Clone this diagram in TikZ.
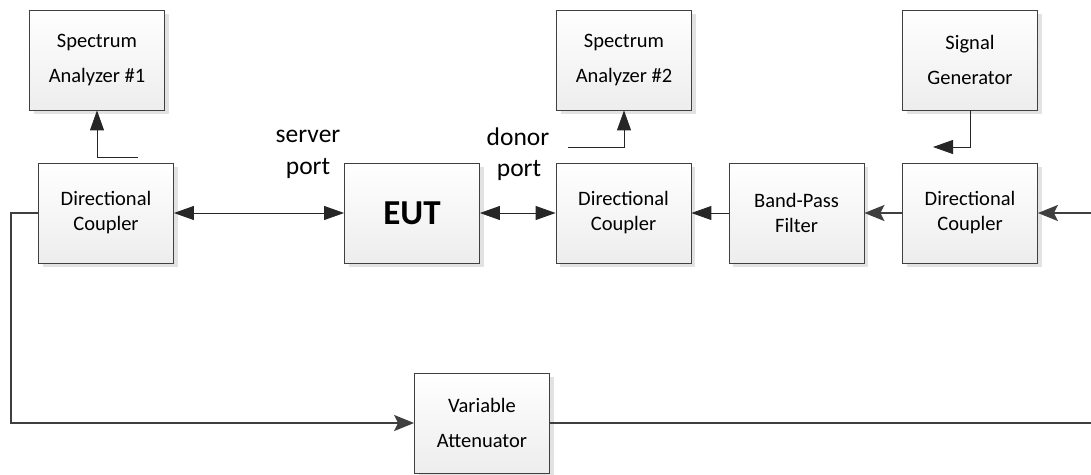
\documentclass[tikz,border=0pt]{standalone}
\usepackage{fontspec}
\setmainfont{Carlito}
\usetikzlibrary{arrows.meta,shadows}
\definecolor{bordc}{HTML}{404040}
\definecolor{linec}{HTML}{3F3F3F}
\definecolor{boxbot}{HTML}{EDEDED}
\definecolor{shadc}{HTML}{E2E2E2}
\begin{document}
\begin{tikzpicture}[x=1pt,y=-1pt,
  box/.style={draw=bordc, line width=0.8pt, top color=white, bottom color=boxbot,
    minimum width=135pt, minimum height=100pt, inner sep=0pt, align=center,
    drop shadow={shadow xshift=4pt, shadow yshift=-4pt, fill=shadc, opacity=1}},
  tall/.style={font=\fontsize{20.5}{35}\selectfont},
  short/.style={font=\fontsize{20.5}{25}\selectfont},
  lbl/.style={font=\fontsize{25.5}{31}\selectfont, inner sep=0pt},
  thinln/.style={draw=black!85, line width=0.9pt},
  thickln/.style={draw=linec, line width=2pt},
  blk/.style={-{Triangle[length=20pt,width=14pt]}},
  blkboth/.style={{Triangle[length=20pt,width=14pt]}-{Triangle[length=20pt,width=14pt]}},
  gtip/.style={-{Stealth[length=20pt,width=16pt,inset=4pt]}}
]
\useasboundingbox (0,0) rectangle (1091,474);
\node[box,tall] (sa1) at (97,60) {Spectrum\\Analyzer \#1};
\node[box,tall] (sa2) at (624,60) {Spectrum\\Analyzer \#2};
\node[box,tall] (sg) at (970,60) {Signal\\Generator};
\node[box,short] (dc1) at (106,213) {Directional\\Coupler};
\node[box,font=\bfseries\fontsize{35}{40}\selectfont] (eut) at (412,213) {EUT};
\node[box,short] (dc2) at (623.5,213) {Directional\\Coupler};
\node[box,short] (bpf) at (796.5,213) {Band-Pass\\Filter};
\node[box,short] (dc3) at (970,213) {Directional\\Coupler};
\node[box,tall] (va) at (482,423) {Variable\\Attenuator};

\node[lbl,anchor=base] (srvA) at (308,142) {server};
\node[lbl,anchor=base] (srvB) at (308,174) {port};
\node[lbl,anchor=base] (donA) at (518,145) {donor};
\node[lbl,anchor=base] (donB) at (519,176) {port};

\coordinate (sa1src) at (138,157);
\draw[thinln,blk] (sa1src) -| (sa1.south);
\draw[thinln,blkboth] (dc1.east) -- (eut.west);
\draw[thinln,blkboth] (eut.east) -- (dc2.west);
\coordinate (sa2src) at (568,147);
\draw[thinln,blk] (sa2src) -| (sa2.south);
\coordinate (sgend) at (933,147);
\draw[thinln,blk] (sg.south) |- (sgend);
\draw[thickln,gtip] (dc3.west) -- (bpf.east);
\draw[thinln,blk] (bpf.west) -- (dc2.east);
\coordinate (rc) at (1095,213);
\draw[thickln,gtip] (va.east) -| (rc) -- (dc3.east);
\coordinate (lc) at (11,213);
\draw[thickln,gtip] (dc1.west) -- (lc) |- (va.west);
\end{tikzpicture}
\end{document}
